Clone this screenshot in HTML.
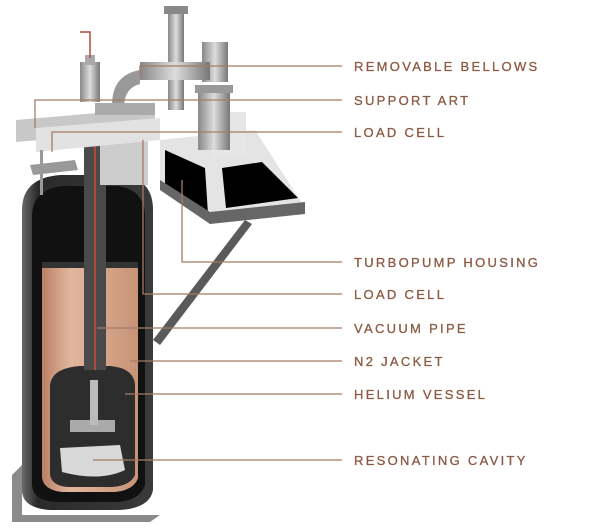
<!DOCTYPE html>
<html><head><style>
html,body{margin:0;padding:0;background:#fff;width:600px;height:528px;overflow:hidden}
svg{display:block}
text{font-family:"Liberation Sans",sans-serif;font-size:13px;fill:#8a5a43;letter-spacing:2.3px;stroke:#8a5a43;stroke-width:0.3}
</style></head><body>
<svg width="600" height="528" viewBox="0 0 600 528">
<defs>
<linearGradient id="cu" x1="0" x2="1"><stop offset="0" stop-color="#b98066"/><stop offset=".3" stop-color="#e2b79e"/><stop offset="1" stop-color="#c79377"/></linearGradient>
<linearGradient id="dw" x1="0" x2="1"><stop offset="0" stop-color="#6a6a6a"/><stop offset=".12" stop-color="#2a2a2a"/><stop offset="1" stop-color="#3a3a3a"/></linearGradient>
<linearGradient id="mt" x1="0" x2="1"><stop offset="0" stop-color="#888"/><stop offset=".5" stop-color="#ddd"/><stop offset="1" stop-color="#777"/></linearGradient>
</defs>
<path d="M12 475 L22 465 L22 515 L160 515 L150 522 L12 522 Z" fill="#8a8a8a"/>
<path d="M245 220 L252 224 L160 345 L153 340 Z" fill="#5a5a5a"/>
<path d="M22 210 Q22 178 60 175 L120 175 Q153 178 153 210 L153 490 Q150 508 120 510 L50 510 Q22 508 22 490 Z" fill="url(#dw)"/>
<path d="M32 215 Q33 190 62 186 L118 186 Q144 190 145 215 L145 485 Q140 500 118 502 L55 502 Q33 500 32 485 Z" fill="#111"/>
<path d="M42 262 L138 262 L138 478 Q134 490 115 492 L62 492 Q44 490 42 478 Z" fill="url(#cu)"/>
<rect x="42" y="262" width="96" height="6" fill="#333"/>
<path d="M50 385 Q52 368 80 366 L110 366 Q134 368 135 385 L135 475 Q130 486 112 487 L68 487 Q52 486 50 475 Z" fill="#2d2d2d"/>
<path d="M60 448 L120 445 L125 470 Q100 482 62 472 Z" fill="#d8d8d8"/>
<rect x="70" y="420" width="45" height="12" fill="#aaa"/>
<rect x="90" y="380" width="8" height="45" fill="#bbb"/>
<rect x="84" y="130" width="22" height="240" fill="#4a4a4a"/>
<rect x="94" y="130" width="2" height="240" fill="#b24a3a"/>
<rect x="100" y="140" width="48" height="45" fill="#ccc"/>
<path d="M16 120 L155 108 L155 130 L16 142 Z" fill="#c8c8c8"/>
<path d="M36 128 L160 118 L160 140 L36 152 Z" fill="#e2e2e2"/>
<path d="M30 165 L75 160 L78 170 L33 175 Z" fill="#999"/>
<rect x="40" y="150" width="3" height="45" fill="#999"/>
<path d="M160 140 L255 130 L300 200 L305 210 L210 222 L160 180 Z" fill="#e4e4e4"/>
<path d="M165 150 L205 168 L208 214 L165 192 Z" fill="#000"/>
<path d="M222 168 L262 162 L298 198 L226 208 Z" fill="#000"/>
<path d="M160 190 L210 224 L305 214 L305 202 L210 212 L160 180 Z" fill="#666"/>
<rect x="212" y="112" width="34" height="45" fill="#e6e6e6"/>
<rect x="198" y="85" width="32" height="65" fill="url(#mt)"/>
<rect x="195" y="85" width="38" height="8" fill="#999"/>
<rect x="202" y="42" width="26" height="40" fill="url(#mt)"/>
<rect x="168" y="10" width="16" height="100" fill="url(#mt)"/>
<rect x="164" y="6" width="24" height="8" fill="#888"/>
<rect x="140" y="62" width="70" height="18" fill="url(#mt)"/>
<path d="M112 105 Q112 75 140 70 L140 84 Q124 88 124 108 Z" fill="#999"/>
<rect x="80" y="62" width="20" height="40" fill="url(#mt)"/>
<rect x="85" y="55" width="10" height="10" fill="#aaa"/>
<path d="M80 32 L90 32 L90 58" stroke="#b24a3a" stroke-width="1.5" fill="none"/>
<rect x="95" y="103" width="60" height="12" fill="#aaa"/>
<g stroke="#a57b66" stroke-width="1.3" fill="none">
<path d="M140 76 V66 H342"/>
<path d="M35 128 V100 H342"/>
<path d="M52 152 V132 H342"/>
<path d="M182 180 V262 H342"/>
<path d="M143 140 V294 H342"/>
<path d="M97 328 H342"/>
<path d="M130 361 H342"/>
<path d="M125 394 H342"/>
<path d="M93 460 H342"/>
</g>
<text x="354" y="71">REMOVABLE BELLOWS</text>
<text x="354" y="105">SUPPORT ART</text>
<text x="354" y="137">LOAD CELL</text>
<text x="354" y="267">TURBOPUMP HOUSING</text>
<text x="354" y="299">LOAD CELL</text>
<text x="354" y="333">VACUUM PIPE</text>
<text x="354" y="366">N2 JACKET</text>
<text x="354" y="399">HELIUM VESSEL</text>
<text x="354" y="465">RESONATING CAVITY</text>
</svg>
</body></html>
